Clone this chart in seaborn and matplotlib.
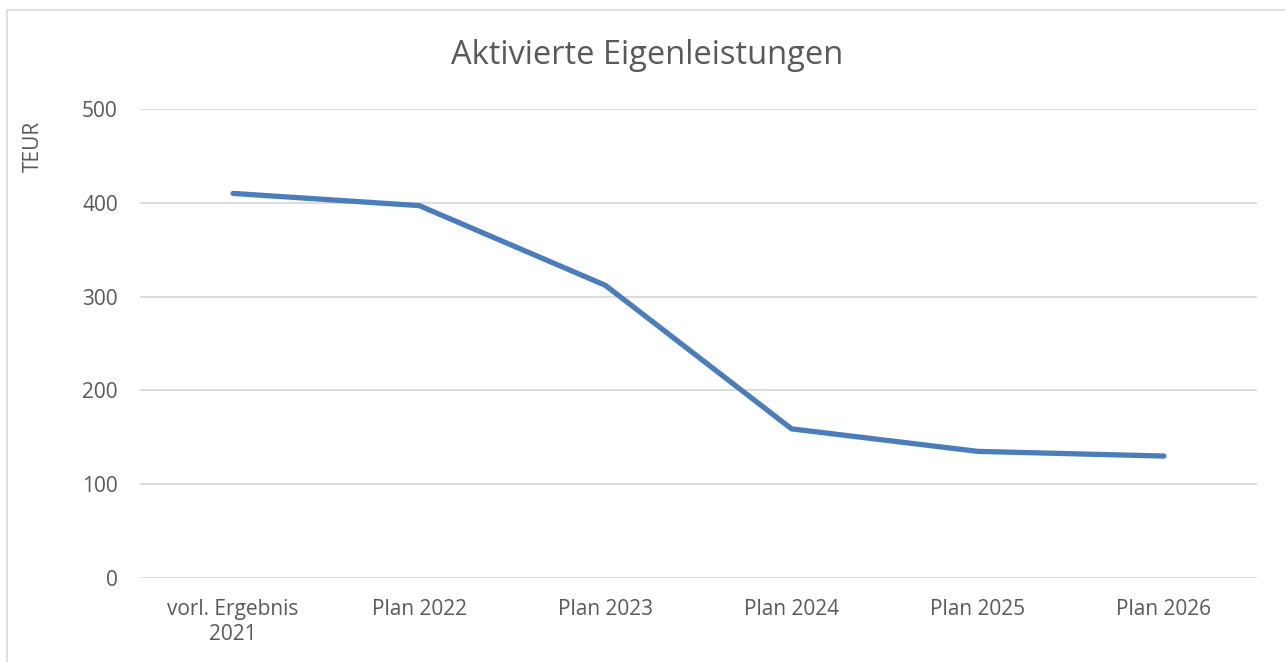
import matplotlib
matplotlib.use("Agg")
import matplotlib.pyplot as plt
import seaborn as sns
import pandas as pd
from matplotlib.patches import Rectangle

# values (TEUR)
categories = ["vorl. Ergebnis\n2021", "Plan 2022", "Plan 2023", "Plan 2024", "Plan 2025", "Plan 2026"]
values = [410, 397, 312, 159, 135, 130]
yticks = [0, 100, 200, 300, 400, 500]

df = pd.DataFrame({"Kategorie": categories, "TEUR": values})

sns.set_theme(style="white")
plt.rcParams["font.family"] = ["Open Sans", "DejaVu Sans"]
grey = "#595959"

fig = plt.figure(figsize=(12.85, 6.62), dpi=100)
ax = fig.add_axes([140 / 1285, 1 - 578 / 662, (1257 - 140) / 1285, (578 - 109) / 662])

sns.lineplot(data=df, x="Kategorie", y="TEUR", ax=ax, color="#4a7ebb", linewidth=3.8, sort=False)

ax.set_xlim(-0.5, len(categories) - 0.5)
ax.set_ylim(0, 500)
ax.set_yticks(yticks)
ax.yaxis.grid(True, color="#d9d9d9", linewidth=1.3)
ax.set_axisbelow(True)
for s in ax.spines.values():
    s.set_visible(False)
ax.tick_params(axis="both", length=0, labelsize=15, colors=grey)
ax.tick_params(axis="y", pad=16)
ax.tick_params(axis="x", pad=15)
for lbl in ax.get_xticklabels():
    lbl.set_linespacing(1.25)
ax.set_xlabel("")
ax.set_ylabel("")

fig.text(33 / 1285, 1 - 146 / 662, "TEUR", rotation=90, ha="center", va="center",
         fontsize=15, color=grey)
fig.text(647 / 1285, 1 - 55 / 662, "Aktivierte Eigenleistungen", ha="center", va="center",
         fontsize=23.5, color=grey)

# chart-area border (cut off at the right and bottom in the reference)
fig.patches.append(Rectangle((7 / 1285, -0.1), 1.2, 1 - 10 / 662 + 0.1, transform=fig.transFigure,
                             fill=False, edgecolor="#d9d9d9", linewidth=1.2))

fig.savefig("out.png", dpi=100)
